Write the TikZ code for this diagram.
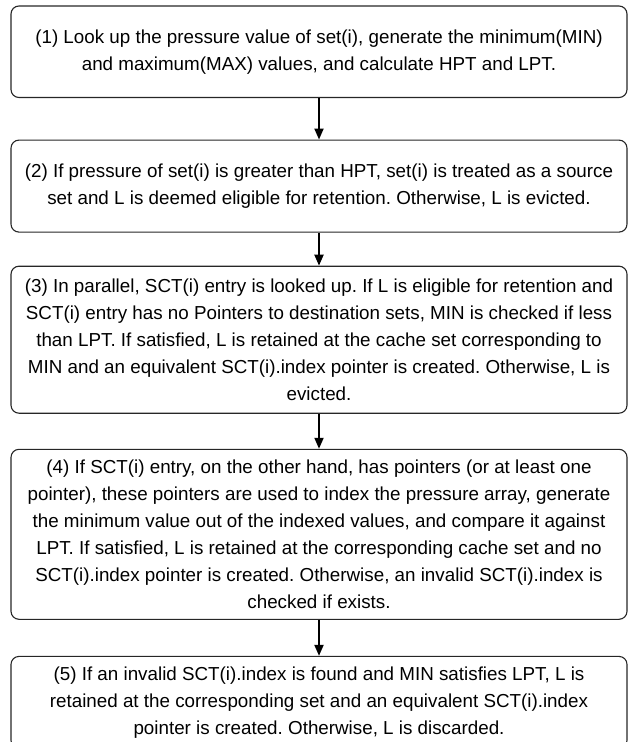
\documentclass[tikz,border=0pt]{standalone}
\usepackage{fontspec}
\setmainfont{Liberation Sans}
\usetikzlibrary{positioning,arrows.meta}

\tikzset{
	stepbox/.style={draw=black!85, line width=1.1pt, rounded corners=8pt, minimum width=616pt, inner sep=0pt, align=center, font=\fontsize{18.8}{27}\selectfont},
	flow/.style={-{Triangle[width=9pt,length=11pt]}, line width=2pt}
}

\begin{document}
\frenchspacing
\begin{tikzpicture}
	% page setup
	
	\def\pw{630pt}
	\def\ph{742pt}
	
	\useasboundingbox (0,0) rectangle (\pw,-\ph);
	
	% steps
	\node[stepbox, minimum height=91.5pt] (s1) at (319pt,-51.75pt) {(1) Look up the pressure value of set(i), generate the minimum(MIN)\\and maximum(MAX) values, and calculate HPT and LPT.};
	\node[stepbox, minimum height=92pt, below=41.5pt of s1] (s2) {(2) If pressure of set(i) is greater than HPT, set(i) is treated as a source\\set and L is deemed eligible for retention. Otherwise, L is evicted.};
	\node[stepbox, minimum height=147pt, below=33pt of s2] (s3) {(3) In parallel, SCT(i) entry is looked up. If L is eligible for retention and\\SCT(i) entry has no Pointers to destination sets, MIN is checked if less\\than LPT. If satisfied, L is retained at the cache set corresponding to\\MIN and an equivalent SCT(i).index pointer is created. Otherwise, L is\\evicted.};
	\node[stepbox, minimum height=170pt, below=35pt of s3] (s4) {(4) If SCT(i) entry, on the other hand, has pointers (or at least one\\pointer), these pointers are used to index the pressure array, generate\\the minimum value out of the indexed values, and compare it against\\LPT. If satisfied, L is retained at the corresponding cache set and no\\SCT(i).index pointer is created. Otherwise, an invalid SCT(i).index is\\checked if exists.};
	\node[stepbox, minimum height=92pt, below=36pt of s4] (s5) {(5) If an invalid SCT(i).index is found and MIN satisfies LPT, L is\\retained at the corresponding set and an equivalent SCT(i).index\\pointer is created. Otherwise, L is discarded.};
	
	% arrows
	\draw[flow] (s1) -- (s2);
	\draw[flow] (s2) -- (s3);
	\draw[flow] (s3) -- (s4);
	\draw[flow] (s4) -- (s5);
\end{tikzpicture}
\end{document}
